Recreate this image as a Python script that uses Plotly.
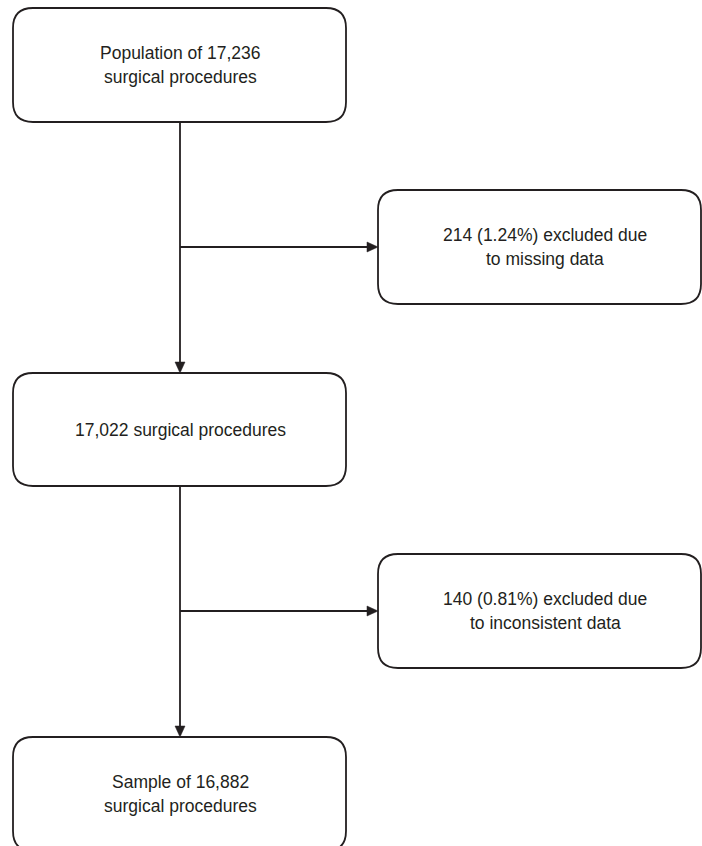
import plotly.graph_objects as go

# Flowchart content
box_labels = [
    ["Population of 17,236", "surgical procedures"],
    ["214 (1.24%) excluded due", "to missing data"],
    ["17,022 surgical procedures"],
    ["140 (0.81%) excluded due", "to inconsistent data"],
    ["Sample of 16,882", "surgical procedures"],
]

# Layout geometry (pixels, y downward)
W, H = 702, 846
boxes = [
    (13, 8, 346, 122),
    (378, 190, 701, 304),
    (13, 373, 346, 486),
    (378, 554, 701, 668),
    (13, 737, 346, 851),
]
text_cx = [180, 545, 180, 545, 180]
text_dy = [0, 0, 0, 0, 0]
line_gap = 23.5
R = 20
LC = "#231f20"
TC = "#231f20"
LW = 1.8
trunk_x = 180
branch_y = [247, 611]

fig = go.Figure()
shapes = []
annotations = []


def rrect(x0, y0, x1, y1, r):
    return (f"M {x0+r},{y0} L {x1-r},{y0} Q {x1},{y0} {x1},{y0+r} "
            f"L {x1},{y1-r} Q {x1},{y1} {x1-r},{y1} L {x0+r},{y1} "
            f"Q {x0},{y1} {x0},{y1-r} L {x0},{y0+r} Q {x0},{y0} {x0+r},{y0} Z")


for (x0, y0, x1, y1), labels, cx, dy in zip(boxes, box_labels, text_cx, text_dy):
    shapes.append(dict(type="path", path=rrect(x0, y0, x1, y1, R),
                       line=dict(color=LC, width=LW), fillcolor="white", layer="below"))
    cy = (y0 + y1) / 2 + dy
    n = len(labels)
    for i, t in enumerate(labels):
        yy = cy + (i - (n - 1) / 2) * line_gap
        annotations.append(dict(x=cx, y=yy, xref="x", yref="y", text=t, showarrow=False,
                                xanchor="center", yanchor="middle",
                                font=dict(family="Liberation Sans, Arial, sans-serif",
                                          size=17.5, color=TC)))

AL, AW = 11, 5


def vline_arrow(x, y0, y1):
    shapes.append(dict(type="line", x0=x, y0=y0, x1=x, y1=y1 - AL + 1,
                       line=dict(color=LC, width=LW)))
    shapes.append(dict(type="path",
                       path=f"M {x-AW},{y1-AL} L {x+AW},{y1-AL} L {x},{y1} Z",
                       fillcolor=LC, line=dict(color=LC, width=0.5)))


def hline_arrow(y, x0, x1):
    shapes.append(dict(type="line", x0=x0, y0=y, x1=x1 - AL + 1, y1=y,
                       line=dict(color=LC, width=LW)))
    shapes.append(dict(type="path",
                       path=f"M {x1-AL},{y-AW} L {x1-AL},{y+AW} L {x1},{y} Z",
                       fillcolor=LC, line=dict(color=LC, width=0.5)))


vline_arrow(trunk_x, boxes[0][3], boxes[2][1])
vline_arrow(trunk_x, boxes[2][3], boxes[4][1])
hline_arrow(branch_y[0], trunk_x, boxes[1][0])
hline_arrow(branch_y[1], trunk_x, boxes[3][0])

fig.update_layout(
    width=W, height=H,
    margin=dict(l=0, r=0, t=0, b=0),
    paper_bgcolor="white", plot_bgcolor="white",
    xaxis=dict(range=[0, W], visible=False, fixedrange=True),
    yaxis=dict(range=[H, 0], visible=False, fixedrange=True),
    shapes=shapes, annotations=annotations,
    showlegend=False,
)

fig.write_html("out.html", config={"displayModeBar": False},
               post_script="document.body.style.margin='0';document.body.style.overflow='hidden';")
